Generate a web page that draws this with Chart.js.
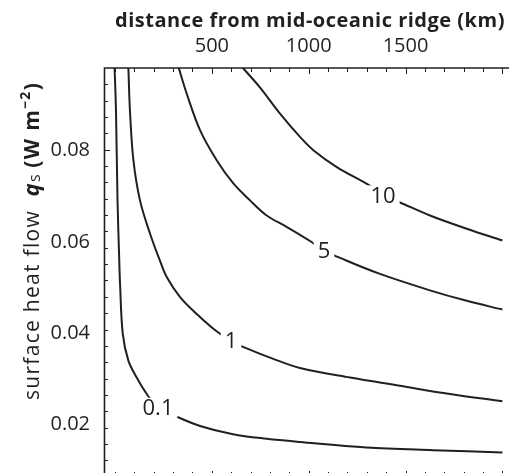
<!DOCTYPE html>
<html>
<head>
<meta charset="utf-8">
<script src="https://cdn.jsdelivr.net/npm/chart.js@4.4.1/dist/chart.umd.min.js"></script>
<style>
  html, body { margin: 0; padding: 0; background: #fff; }
  #wrap { width: 509px; height: 473px; overflow: hidden; position: relative; }
  canvas { display: block; }
</style>
</head>
<body>
<div id="wrap"><canvas id="chart" width="520" height="480"></canvas></div>
<script>
// distance from ridge (km) and surface heat flow (W m^-2)
const curve01X = [-4, 5, 13, 22, 26, 40, 69, 112, 164, 222, 310, 439, 609, 783, 955, 1299, 1642, 2000]
const curve01Q = [0.100, 0.0887, 0.0689, 0.0557, 0.0507, 0.0397, 0.0338, 0.0301, 0.0265, 0.0235, 0.0217, 0.0195, 0.0177, 0.0167, 0.0160, 0.0148, 0.0142, 0.0137]

const curve1X = [66, 69, 77, 95, 129, 181, 232, 267, 336, 422, 516, 599, 680, 817, 955, 1213, 1471, 1729, 2000]
const curve1Q = [0.100, 0.0979, 0.0887, 0.0777, 0.0689, 0.0616, 0.0557, 0.0521, 0.0477, 0.0440, 0.0405, 0.0381, 0.0365, 0.0342, 0.0322, 0.0301, 0.0283, 0.0265, 0.0249]

const curve5X = [315, 330, 370, 439, 525, 611, 697, 783, 886, 1007, 1079, 1162, 1368, 1626, 1816, 2000]
const curve5Q = [0.100, 0.0978, 0.0923, 0.0843, 0.0777, 0.0726, 0.0689, 0.0656, 0.0631, 0.0600, 0.0579, 0.0563, 0.0528, 0.0492, 0.0469, 0.0450]

const curve10X = [612, 662, 749, 852, 955, 1024, 1145, 1313, 1384, 1468, 1626, 1816, 2000]
const curve10Q = [0.100, 0.0978, 0.0936, 0.0879, 0.0828, 0.0799, 0.0762, 0.0722, 0.0700, 0.0685, 0.0656, 0.0627, 0.0601]

// contour labels and where they sit on each curve
const contourLabels = ['0.1', '1', '5', '10']
const labelAtX = [222, 599, 1079, 1384]
const labelAtQ = [0.0235, 0.0381, 0.0579, 0.0700]

// axis ticks
const xTickLabels = [500, 1000, 1500]
const xMajorTicks = [500, 1000, 1500, 2000]
const yTickLabels = [0.02, 0.04, 0.06, 0.08]

const ink = '#231f20'
const FONT = '"Open Sans", "Noto Sans", sans-serif'

const toPts = (xs, ys) => xs.map((x, i) => ({ x: x, y: ys[i] }))

const curveStyle = {
  borderColor: ink,
  borderWidth: 2,
  pointRadius: 0,
  fill: false,
  tension: 0.35
}

const decorations = {
  id: 'decorations',
  afterDatasetsDraw(chart) {
    const ctx = chart.ctx
    const xs = chart.scales.x
    const ys = chart.scales.y
    const area = chart.chartArea

    // contour labels with a white gap in the line
    ctx.save()
    ctx.font = '22px ' + FONT
    ctx.textAlign = 'center'
    ctx.textBaseline = 'middle'
    contourLabels.forEach((t, i) => {
      const px = xs.getPixelForValue(labelAtX[i])
      const py = ys.getPixelForValue(labelAtQ[i])
      const w = ctx.measureText(t).width
      ctx.fillStyle = '#fff'
      ctx.fillRect(px - w / 2 - 4, py - 10, w + 8, 20)
      ctx.fillStyle = ink
      ctx.fillText(t, px, py + 1)
    })
    ctx.restore()

    // frame: left and top lines
    ctx.save()
    ctx.strokeStyle = ink
    ctx.lineWidth = 1.6
    ctx.beginPath()
    ctx.moveTo(area.left + 0.5, area.bottom + 5)
    ctx.lineTo(area.left + 0.5, area.top)
    ctx.lineTo(area.right + 5, area.top)
    ctx.stroke()

    // x ticks every 100 km, top (down) and bottom (up)
    ctx.lineWidth = 1
    for (let v = 0; v <= 2000; v += 100) {
      const px = Math.round(xs.getPixelForValue(v)) + 0.5
      const major = xMajorTicks.includes(v)
      ctx.beginPath()
      ctx.moveTo(px, area.top)
      ctx.lineTo(px, area.top + (major ? 6 : 4))
      ctx.moveTo(px, area.bottom)
      ctx.lineTo(px, area.bottom - (major ? 3 : 2))
      ctx.stroke()
    }

    // y ticks
    const yStep = 0.00358
    for (let k = -20; k <= 6; k++) {
      const v = 0.08 + k * yStep
      if (v < ys.min || v > ys.max) continue
      const py = Math.round(ys.getPixelForValue(v)) + 0.5
      const len = k === 0 ? 6 : 4
      ctx.beginPath()
      ctx.moveTo(area.left, py)
      ctx.lineTo(area.left + len, py)
      ctx.stroke()
    }
    ctx.restore()

    // tick labels
    ctx.save()
    ctx.fillStyle = ink
    ctx.font = '20px ' + FONT
    ctx.textAlign = 'center'
    ctx.textBaseline = 'alphabetic'
    xTickLabels.forEach(v => {
      ctx.fillText(String(v), xs.getPixelForValue(v), 52)
    })
    ctx.textAlign = 'right'
    ctx.textBaseline = 'middle'
    yTickLabels.forEach(v => {
      ctx.fillText(v.toFixed(2), 90, ys.getPixelForValue(v) + 1)
    })

    // top axis title
    ctx.font = 'bold 20px ' + FONT
    ctx.letterSpacing = '0.5px'
    ctx.textAlign = 'center'
    ctx.textBaseline = 'alphabetic'
    ctx.fillText('distance from mid-oceanic ridge (km)', 310, 27)

    // left axis title, rotated, mixed styles
    ctx.letterSpacing = '1.3px'
    const parts = [
      { t: 'surface heat flow  ', f: '21px ' + FONT, dy: 0 },
      { t: 'q', f: 'bold italic 22px ' + FONT, dy: 0 },
      { t: 's ', f: '16px ' + FONT, dy: 1 },
      { t: '(W m', f: 'bold 21px ' + FONT, dy: 0 },
      { t: '\u22122', f: 'bold 14px ' + FONT, dy: -9 },
      { t: ')', f: 'bold 21px ' + FONT, dy: 0 }
    ]
    let total = 0
    parts.forEach(p => { ctx.font = p.f; p.w = ctx.measureText(p.t).width; total += p.w })
    ctx.translate(39, 241)
    ctx.rotate(-Math.PI / 2)
    ctx.textAlign = 'left'
    let cx = -total / 2
    parts.forEach(p => {
      ctx.font = p.f
      ctx.fillText(p.t, cx, p.dy)
      cx += p.w
    })
    ctx.restore()
  }
}

new Chart(document.getElementById('chart'), {
  type: 'line',
  data: {
    datasets: [
      { ...curveStyle, label: '0.1', data: toPts(curve01X, curve01Q) },
      { ...curveStyle, label: '1', data: toPts(curve1X, curve1Q) },
      { ...curveStyle, label: '5', data: toPts(curve5X, curve5Q) },
      { ...curveStyle, label: '10', data: toPts(curve10X, curve10Q) }
    ]
  },
  options: {
    responsive: false,
    animation: false,
    devicePixelRatio: 1,
    layout: { padding: { left: 104, top: 68, right: 8, bottom: 6 } },
    plugins: { legend: { display: false }, tooltip: { enabled: false } },
    scales: {
      x: { type: 'linear', display: false, min: -56.8, max: 2049.6 },
      y: { type: 'linear', display: false, min: 0.00898, max: 0.09789 }
    }
  },
  plugins: [decorations]
})
</script>
</body>
</html>
